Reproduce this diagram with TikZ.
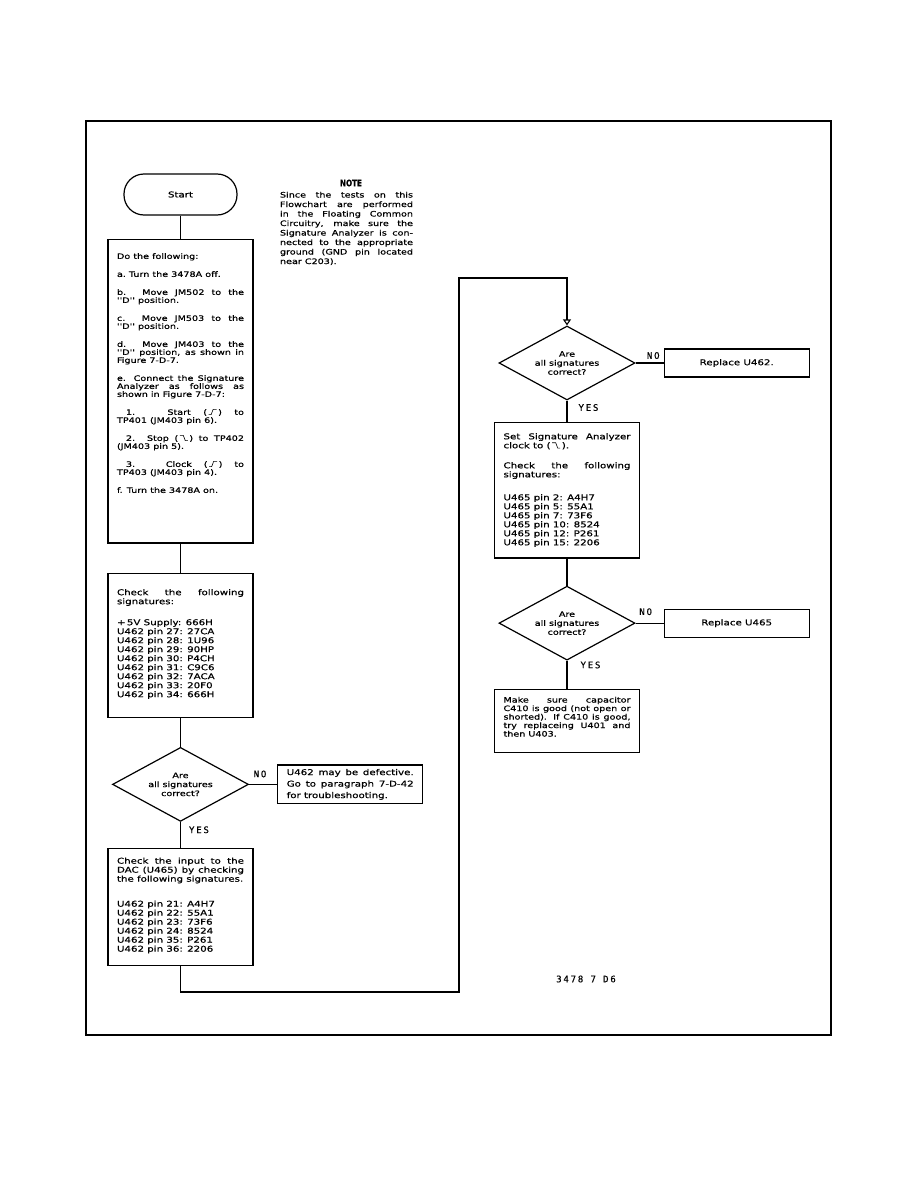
\documentclass[tikz,border=0pt]{standalone}
\usepackage{fontspec}
\usepackage{tikz}
\usetikzlibrary{positioning,arrows.meta,shapes.geometric}
\newfontfamily\flowfont[FakeStretch=1.28,FakeBold=0.7]{DejaVu Sans}
\newfontfamily\tagfont[LetterSpace=20,FakeBold=0.5]{DejaVu Sans Mono}
\newfontfamily\notefont[FakeStretch=0.8,FakeBold=0.6]{DejaVu Sans}
\newcommand{\txtsize}{\fontsize{7.5}{8}\selectfont}
\newcommand{\sigsize}{\fontsize{8}{9}\selectfont}
\newcommand{\risesig}{\tikz[x=1pt,y=1pt,baseline=0pt]\draw[line width=0.6pt] (0,0.2) -- (2.5,0.2) -- (4.5,5.5) -- (8,5.5);}
\newcommand{\fallsig}{\tikz[x=1pt,y=1pt,baseline=0pt]\draw[line width=0.6pt] (0,5.5) -- (3.5,5.5) -- (5.5,0.2) -- (8,0.2);}
\newcommand{\padbelow}[1]{\rule[-#1]{0pt}{#1}}
\tolerance=9999
\hbadness=10000

\begin{document}
\begin{tikzpicture}[x=1pt, y=-1pt,
  every node/.style={font=\flowfont\txtsize},
  term/.style={draw, line width=1.2pt, rounded corners=20pt, minimum width=113pt, minimum height=41pt, font=\flowfont\sigsize},
  textbox/.style={draw, line width=1.2pt, text width=127pt, inner xsep=9pt, align=justify},
  sigbox/.style={textbox, font=\flowfont\sigsize},
  decide/.style={draw, diamond, aspect=2, line width=1.2pt, minimum width=136pt, minimum height=74pt, inner sep=0pt, align=center, font=\flowfont\fontsize{7.5}{9}\selectfont},
  fixbox/.style={draw, line width=1.2pt, minimum width=145pt, minimum height=28pt, font=\flowfont\sigsize},
  yn/.style={font=\tagfont\fontsize{9}{10}\selectfont, inner sep=1pt},
  conn/.style={line width=1.1pt},
  opentip/.style={-{Triangle[open, length=6pt, width=8pt]}}
]
  \useasboundingbox (0,0) rectangle (918,1188);
  \draw[line width=1.8pt] (86,121) rectangle (831,1035);

  \node[term] (start) at (180.5,194.5) {Start};
  \node[textbox, below=23pt of start, inner ysep=14pt] (todo) {Do the following:\\[10pt]
    a.\ Turn the 3478A off.\\[10pt]
    b. Move JM502 to the\linebreak ''D'' position.\\[10pt]
    c. Move JM503 to the\linebreak ''D'' position.\\[10pt]
    d. Move JM403 to the\linebreak ''D'' position, as shown in\linebreak Figure 7-D-7.\\[10pt]
    e. Connect the Signature\linebreak Analyzer as follows as\linebreak shown in Figure 7-D-7:\\[10pt]
    \hspace*{9pt}1. Start (\,\risesig\,) to\linebreak TP401 (JM403 pin 6).\\[10pt]
    \hspace*{9pt}2. Stop (\,\fallsig\,) to TP402\linebreak (JM403 pin 5).\\[10pt]
    \hspace*{9pt}3. Clock (\,\risesig\,) to\linebreak TP403 (JM403 pin 4).\\[10pt]
    f. Turn the 3478A on.\padbelow{36pt}};
  \node[sigbox, below=29pt of todo, inner ysep=16pt] (check) {Check the following\linebreak signatures:\\[12pt]
    +\,5V Supply: 666H\\
    U462 pin 27: 27CA\\
    U462 pin 28: 1U96\\
    U462 pin 29: 90HP\\
    U462 pin 30: P4CH\\
    U462 pin 31: C9C6\\
    U462 pin 32: 7ACA\\
    U462 pin 33: 20F0\\
    U462 pin 34: 666H\padbelow{4pt}};
  \node[decide, below=29pt of check] (dec1) {Are\\all signatures\\correct?};
  \node[sigbox, right=28pt of dec1, inner ysep=4pt, font=\flowfont\fontsize{8}{11.5}\selectfont] (defect) {U462 may be defective.\linebreak Go to paragraph 7-D-42\linebreak for troubleshooting.};
  \node[sigbox, below=26pt of dec1, inner ysep=9pt] (dac) {Check the input to the\linebreak DAC (U465) by checking\linebreak the following signatures.\\[16pt]
    U462 pin 21: A4H7\\
    U462 pin 22: 55A1\\
    U462 pin 23: 73F6\\
    U462 pin 24: 8524\\
    U462 pin 35: P261\\
    U462 pin 36: 2206\padbelow{5pt}};

  \node[decide] (dec2) at (567,363) {Are\\all signatures\\correct?};
  \node[fixbox, right=28pt of dec2] (fix1) {Replace U462.};
  \node[sigbox, below=21pt of dec2, inner ysep=11pt] (setclk) {Set Signature Analyzer\linebreak clock to (\,\fallsig\,).\\[11pt]
    Check the following\linebreak signatures:\\[14pt]
    U465 pin 2: A4H7\\
    U465 pin 5: 55A1\\
    U465 pin 7: 73F6\\
    U465 pin 10: 8524\\
    U465 pin 12: P261\\
    U465 pin 15: 2206\padbelow{1pt}};
  \node[decide, below=27pt of setclk] (dec3) {Are\\all signatures\\correct?};
  \node[fixbox, right=28pt of dec3] (fix2) {Replace U465};
  \node[textbox, below=28pt of dec3, inner ysep=7.5pt, font=\flowfont\fontsize{7.5}{8.5}\selectfont] (cap) {Make sure capacitor\linebreak C410 is good (not open or\linebreak shorted). If C410 is good,\linebreak try replaceing U401 and\linebreak then U403.\padbelow{8.5pt}};

  \node[font=\notefont\bfseries\fontsize{9}{10}\selectfont, inner sep=0pt] (notehead) at (351,183) {NOTE};
  \node[below=5pt of notehead, xshift=-4.5pt, text width=133pt, align=justify, inner sep=0pt, font=\flowfont\fontsize{7.5}{9.5}\selectfont] (note) {Since the tests on this\linebreak Flowchart are performed\linebreak in the Floating Common\linebreak Circuitry, make sure the\linebreak Signature Analyzer is con-\linebreak nected to the appropriate\linebreak ground (GND pin located\linebreak near C203).};

  \node[yn] (figid) at (586,979) {3478 7 D6};
  \coordinate (loopbot) at (459,992);
  \coordinate (looptop) at (459,278);

  \draw[conn] (start) -- (todo);
  \draw[conn] (todo) -- (check);
  \draw[conn] (check) -- (dec1);
  \draw[conn] (dec1) -- node[yn, pos=0.3, right=7pt] (yes1) {YES} (dac);
  \draw[conn] (dec1) -- node[yn, pos=0.39, above=5.5pt] (no1) {NO} (defect);
  \draw[conn, opentip] (dac.south) |- (loopbot) -- (looptop) -| (dec2.north);
  \draw[conn] (dec2) -- node[yn, pos=0.33, right=10pt] (yes2) {YES} (setclk);
  \draw[conn] (dec2) -- node[yn, pos=0.63, above=2.5pt] (no2) {NO} (fix1);
  \draw[conn] (setclk) -- (dec3);
  \draw[conn] (dec3) -- node[yn, pos=0.15, right=12pt] (yes3) {YES} (cap);
  \draw[conn] (dec3) -- node[yn, pos=0.36, above=6.5pt] (no3) {NO} (fix2);
\end{tikzpicture}
\end{document}
